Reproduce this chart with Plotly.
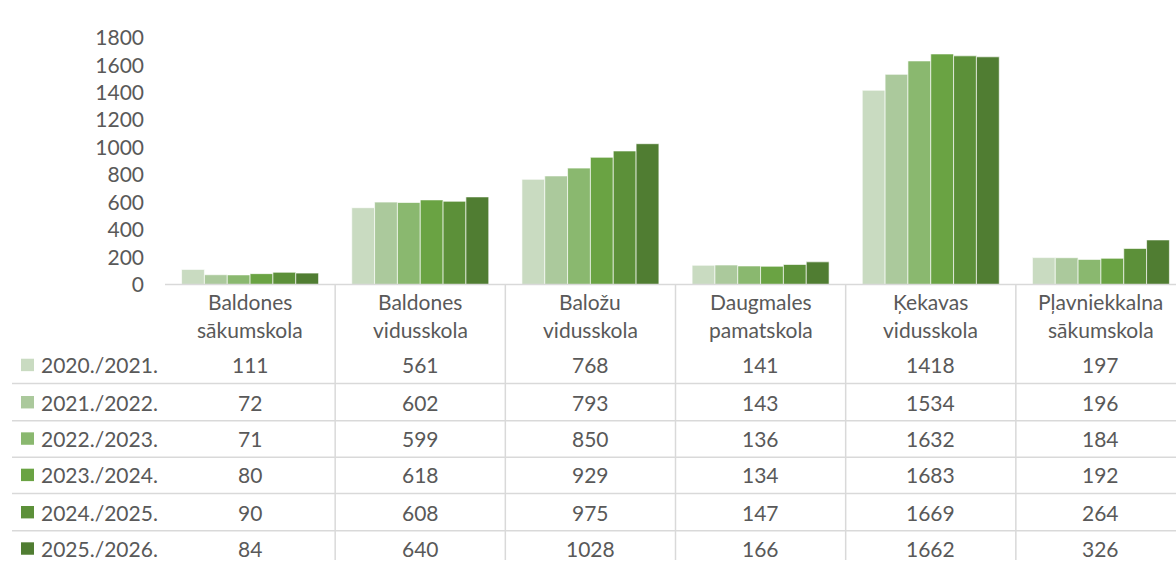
"""Skolēnu skaits pa skolām - stabiņu diagramma ar datu tabulu (Excel stils)."""
import plotly.graph_objects as go

# data
schools = ['Baldones sākumskola', 'Baldones vidusskola', 'Baložu vidusskola',
           'Daugmales pamatskola', 'Ķekavas vidusskola', 'Pļavniekkalna sākumskola']
years = ['2020./2021.', '2021./2022.', '2022./2023.',
         '2023./2024.', '2024./2025.', '2025./2026.']
v2020 = [111, 561, 768, 141, 1418, 197]
v2021 = [72, 602, 793, 143, 1534, 196]
v2022 = [71, 599, 850, 136, 1632, 184]
v2023 = [80, 618, 929, 134, 1683, 192]
v2024 = [90, 608, 975, 147, 1669, 264]
v2025 = [84, 640, 1028, 166, 1662, 326]
series = [v2020, v2021, v2022, v2023, v2024, v2025]
colors = ['#C9DBC1', '#ABC99C', '#8AB86F', '#6AA343', '#5C9039', '#507D32']

W, H = 1176, 571
FONT = 'Lato'
FS = 21
GREY = '#595959'
LINE = '#D9D9D9'


def py(px):
    # pixel from top -> paper y
    return (H - px) / H


x_left = 165 / W
xs = list(range(len(schools)))

fig = go.Figure()
for name, vals, col in zip(years, series, colors):
    fig.add_trace(go.Bar(
        x=xs, y=vals, name=name,
        marker=dict(color=col, line=dict(color='rgba(255,255,255,0.8)', width=0.8)),
    ))

shapes = []
annotations = []

# header text (school names in two lines)
for i, s in enumerate(schools):
    parts = s.split(' ')
    for k, txt in enumerate(parts):
        annotations.append(dict(
            x=i, xref='x', y=py(301 + 29 * k), yref='paper', text=txt,
            showarrow=False, xanchor='center', yanchor='middle',
            font=dict(family=FONT, size=FS, color=GREY)))

# vertical separators between columns in the table
for i in range(1, len(schools)):
    shapes.append(dict(type='line', xref='x', yref='paper',
                       x0=i - 0.5, x1=i - 0.5, y0=0, y1=py(283),
                       line=dict(color=LINE, width=1.5)))

# table rows
row_c = [367, 406, 444, 482, 521, 559]
for r, (name, vals, col) in enumerate(zip(years, series, colors)):
    yc = row_c[r]
    shapes.append(dict(type='rect', xref='paper', yref='paper',
                       x0=21 / W, x1=34 / W, y0=py(yc + 6.5), y1=py(yc - 6.5),
                       fillcolor=col, line=dict(width=0)))
    annotations.append(dict(
        x=39 / W, xref='paper', y=py(yc), yref='paper', text=name,
        showarrow=False, xanchor='left', yanchor='middle',
        font=dict(family=FONT, size=FS, color=GREY)))
    for i, v in enumerate(vals):
        annotations.append(dict(
            x=i, xref='x', y=py(yc), yref='paper', text=str(v),
            showarrow=False, xanchor='center', yanchor='middle',
            font=dict(family=FONT, size=FS, color=GREY)))
    if r < len(years) - 1:
        shapes.append(dict(type='line', xref='paper', yref='paper',
                           x0=12 / W, x1=1, y0=py(yc + 19.5), y1=py(yc + 19.5),
                           line=dict(color=LINE, width=1.5)))

# horizontal axis line
shapes.append(dict(type='line', xref='paper', yref='paper',
                   x0=x_left, x1=1, y0=py(283), y1=py(283),
                   line=dict(color=LINE, width=1.5)))

fig.update_layout(
    width=W, height=H,
    margin=dict(l=0, r=0, t=0, b=0),
    paper_bgcolor='white', plot_bgcolor='white',
    barmode='group', bargap=0.195, bargroupgap=0,
    showlegend=False,
    font=dict(family=FONT, size=FS, color=GREY),
    xaxis=dict(domain=[x_left, 1], range=[-0.5, 5.5 - 10 / 170],
               showticklabels=False, showgrid=False, zeroline=False,
               showline=False, fixedrange=True),
    yaxis=dict(domain=[py(283), py(25)], range=[0, 1800], dtick=200,
               showgrid=False, zeroline=False, showline=False,
               ticks='', ticklabelstandoff=20, fixedrange=True,
               tickfont=dict(family=FONT, size=FS, color=GREY)),
    shapes=shapes,
    annotations=annotations,
)

fig.write_html("out.html", config={'displayModeBar': False},
               post_script="document.body.style.margin='0';document.body.style.overflow='hidden';")
